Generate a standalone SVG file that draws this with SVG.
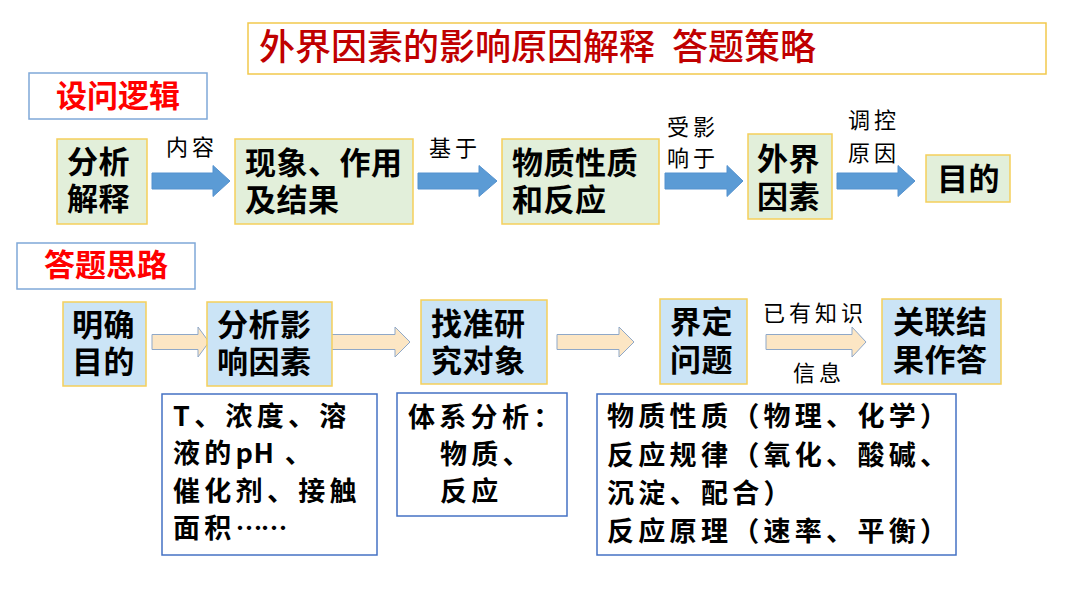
<svg xmlns="http://www.w3.org/2000/svg" width="1080" height="608" viewBox="0 0 1080 608">
<style>
text { font-family: "Noto Sans CJK SC", "Noto Sans", sans-serif; fill: #000; }
.n1 rect { fill: #E2EFDA; stroke: #F5CF5B; stroke-width: 1.5; }
.n2 rect { fill: #CBE4F6; stroke: #F5CF5B; stroke-width: 1.5; }
.nt { font-size: 31px; font-weight: 700; letter-spacing: 0.5px; }
.lbl { font-size: 22px; letter-spacing: 4px; }
.a1 { fill: #5B9BD5; stroke: #5592CF; stroke-width: 1; }
.a2 { fill: #FCE6C4; stroke: #8FA8C8; stroke-width: 1; }
.sec rect { fill: #fff; stroke: #7FA8D8; stroke-width: 1.5; }
.sec text { font-size: 31px; font-weight: 700; fill: #FF0000; }
.b3 rect { fill: #fff; stroke: #4472C4; stroke-width: 1.5; }
.bt { font-size: 27px; font-weight: 700; letter-spacing: 4.3px; }
</style>
<rect width="1080" height="608" fill="#fff"/>

<g id="title">
  <rect x="248" y="23" width="798" height="51" fill="#fff" stroke="#F2C94C" stroke-width="1.5"/>
  <text x="259" y="60" style="font-size:36px;font-weight:500;fill:#C00000">外界因素的影响原因解释<tspan x="672">答题策略</tspan></text>
</g>

<g id="sec1" class="sec">
  <rect x="29" y="73" width="178" height="46"/>
  <text x="118" y="107" text-anchor="middle">设问逻辑</text>
</g>
<g id="sec2" class="sec">
  <rect x="17" y="243" width="178" height="46"/>
  <text x="106" y="276" text-anchor="middle">答题思路</text>
</g>

<g id="connectors">
  <g id="c-a1">
    <path class="a1" d="M152,173 H213 V165.5 L230,181 L213,196.5 V189 H152 Z"/>
    <text class="lbl" x="166" y="155">内容</text>
  </g>
  <g id="c-a2">
    <path class="a1" d="M418,173 H479 V165.5 L497,181 L479,196.5 V189 H418 Z"/>
    <text class="lbl" x="429" y="156">基于</text>
  </g>
  <g id="c-a3">
    <path class="a1" d="M665,173 H727 V165.5 L743,181 L727,196.5 V189 H665 Z"/>
    <text class="lbl" x="667" y="135">受影<tspan x="667" y="166">响于</tspan></text>
  </g>
  <g id="c-a4">
    <path class="a1" d="M837,173 H898 V165.5 L915,181 L898,196.5 V189 H837 Z"/>
    <text class="lbl" x="848" y="128">调控<tspan x="848" y="161">原因</tspan></text>
  </g>
  <g id="c-d1">
    <path class="a2" d="M152,334.5 H198 V327 L209,342 L198,357 V349.5 H152 Z"/>
  </g>
  <g id="c-d2">
    <path class="a2" d="M331,334.5 H395 V327 L410,342 L395,357 V349.5 H331 Z"/>
  </g>
  <g id="c-d3">
    <path class="a2" d="M557,334.5 H619 V327 L634,342 L619,357 V349.5 H557 Z"/>
  </g>
  <g id="c-d4">
    <path class="a2" d="M766,334.5 H852 V327 L866,342 L852,357 V349.5 H766 Z"/>
    <text class="lbl" x="763" y="321">已有知识</text>
    <text class="lbl" x="793" y="381">信息</text>
  </g>
</g>

<g id="n-fenxi" class="n1">
  <rect x="57" y="139" width="90" height="85"/>
  <text class="nt" x="67" y="173">分析<tspan x="67" y="210">解释</tspan></text>
</g>
<g id="n-xianxiang" class="n1">
  <rect x="235" y="139" width="178" height="85"/>
  <text class="nt" x="245" y="174">现象、作用<tspan x="245" y="211">及结果</tspan></text>
</g>
<g id="n-wuzhi" class="n1">
  <rect x="502" y="139" width="157" height="85"/>
  <text class="nt" x="512" y="174">物质性质<tspan x="512" y="211">和反应</tspan></text>
</g>
<g id="n-waijie" class="n1">
  <rect x="748" y="134" width="84" height="85"/>
  <text class="nt" x="757" y="170">外界<tspan x="757" y="208">因素</tspan></text>
</g>
<g id="n-mudi" class="n1">
  <rect x="926" y="155" width="84" height="47"/>
  <text class="nt" x="937" y="190">目的</text>
</g>

<g id="n-mingque" class="n2">
  <rect x="63" y="302" width="83" height="84"/>
  <text class="nt" x="72" y="336">明确<tspan x="72" y="373">目的</tspan></text>
</g>
<g id="n-yingxiang" class="n2">
  <rect x="207" y="302" width="125" height="84"/>
  <text class="nt" x="217" y="336">分析影<tspan x="217" y="373">响因素</tspan></text>
</g>
<g id="n-zhaozhun" class="n2">
  <rect x="421" y="300" width="126" height="84"/>
  <text class="nt" x="431" y="335">找准研<tspan x="431" y="372">究对象</tspan></text>
</g>
<g id="n-jieding" class="n2">
  <rect x="660" y="299" width="87" height="85"/>
  <text class="nt" x="670" y="333">界定<tspan x="670" y="371">问题</tspan></text>
</g>
<g id="n-guanlian" class="n2">
  <rect x="882" y="299" width="119" height="85"/>
  <text class="nt" x="893" y="333">关联结<tspan x="893" y="371">果作答</tspan></text>
</g>

<g id="n-factors" class="b3">
  <rect x="162" y="394" width="215" height="161"/>
  <text class="bt" x="173" y="426">T、浓度、溶<tspan x="173" y="463">液的<tspan style="letter-spacing:0.5px">pH</tspan> 、</tspan><tspan x="173" y="501">催化剂、接触</tspan><tspan x="173" y="538">面积<tspan style="letter-spacing:-2px">……</tspan></tspan></text>
</g>
<g id="n-system" class="b3">
  <rect x="397" y="393" width="170" height="123"/>
  <text class="bt" x="408" y="427">体系分析：<tspan x="440" y="464">物质、</tspan><tspan x="440" y="501">反应</tspan></text>
</g>
<g id="n-knowledge" class="b3">
  <rect x="597" y="394" width="359" height="161"/>
  <text class="bt" x="607" y="426">物质性质（物理、化学）<tspan x="607" y="465">反应规律（氧化、酸碱、</tspan><tspan x="607" y="503">沉淀、配合）</tspan><tspan x="607" y="541">反应原理（速率、平衡）</tspan></text>
</g>
</svg>
